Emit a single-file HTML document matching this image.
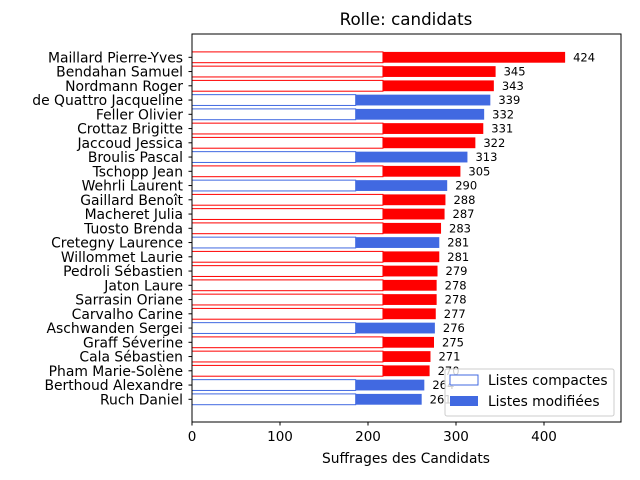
<!DOCTYPE html>
<html><head><meta charset="utf-8"><style>
html,body{margin:0;padding:0;background:#fff;}
svg{display:block;font-family:"DejaVu Sans","Liberation Sans",sans-serif;}
</style></head><body>
<svg id="chart" width="640" height="480" viewBox="0 0 640 480" xmlns="http://www.w3.org/2000/svg">
<text x="406" y="25" font-size="16.7" text-anchor="middle">Rolle: candidats</text>
<g id="bars"></g>
<g id="yaxis"></g>
<g id="xaxis"></g>
<rect x="192" y="34" width="429" height="388" fill="none" stroke="#000" stroke-width="1"/>
<text x="406" y="463" font-size="13.8" text-anchor="middle">Suffrages des Candidats</text>
<g>
<rect x="445" y="369" width="169" height="47" rx="2" fill="#fff" fill-opacity="0.8" stroke="#ccc"/>
<rect x="450" y="375" width="28" height="10" fill="#fff" stroke="#4169e1"/>
<text x="488" y="385" font-size="13.8">Listes compactes</text>
<rect x="450" y="396" width="28" height="10" fill="#4169e1"/>
<text x="488" y="406" font-size="13.8">Listes modifiées</text>
</g>
</svg>
<script>
const names=["Maillard Pierre-Yves","Bendahan Samuel","Nordmann Roger","de Quattro Jacqueline","Feller Olivier","Crottaz Brigitte","Jaccoud Jessica","Broulis Pascal","Tschopp Jean","Wehrli Laurent","Gaillard Benoît","Macheret Julia","Tuosto Brenda","Cretegny Laurence","Willommet Laurie","Pedroli Sébastien","Jaton Laure","Sarrasin Oriane","Carvalho Carine","Aschwanden Sergei","Graff Séverine","Cala Sébastien","Pham Marie-Solène","Berthoud Alexandre","Ruch Daniel"];
const totals=[424,345,343,339,332,331,322,313,305,290,288,287,283,281,281,279,278,278,277,276,275,271,270,264,261];
const compactes=[217,217,217,186,186,217,217,186,217,186,217,217,217,186,217,217,217,217,217,186,217,217,217,186,186];
const parties=["r","r","r","b","b","r","r","b","r","b","r","r","r","b","r","r","r","r","r","b","r","r","r","b","b"];
const xTicks=[0,100,200,300,400];
const NS="http://www.w3.org/2000/svg";
const x=v=>192+v*0.88;
const yc=i=>57.3+i*14.25;
const bh=10.8;
const col={r:"#ff0000",b:"#4169e1"};
const bars=document.getElementById('bars'),ya=document.getElementById('yaxis'),xa=document.getElementById('xaxis');
function mk(tag,attrs,parent){const e=document.createElementNS(NS,tag);for(const k in attrs)e.setAttribute(k,attrs[k]);parent.appendChild(e);return e;}
names.forEach((n,i)=>{
  const c=col[parties[i]];const y0=yc(i)-bh/2;
  const r1=mk('rect',{x:x(0),y:y0,width:x(compactes[i])-x(0),height:bh,fill:'#fff',stroke:c,'stroke-width':1},bars);
  
  
  const r2=mk('rect',{x:x(compactes[i]),y:y0,width:x(totals[i])-x(compactes[i]),height:bh,fill:c},bars);
  
  
  const t=mk('text',{x:x(totals[i])+8,y:yc(i)+4,'font-size':11.5},bars);t.textContent=totals[i];
  
  
  mk('line',{x1:188.5,x2:192,y1:yc(i),y2:yc(i),stroke:'#000'},ya);
  const l=mk('text',{x:183,y:yc(i)+5,'font-size':13.9,'text-anchor':'end'},ya);l.textContent=n;
  
  
});
xTicks.forEach(v=>{
  mk('line',{x1:x(v),x2:x(v),y1:422,y2:425.5,stroke:'#000'},xa);
  const t=mk('text',{x:x(v),y:441,'font-size':13.5,'text-anchor':'middle'},xa);t.textContent=v;
  
  
});
</script>
</body></html>
